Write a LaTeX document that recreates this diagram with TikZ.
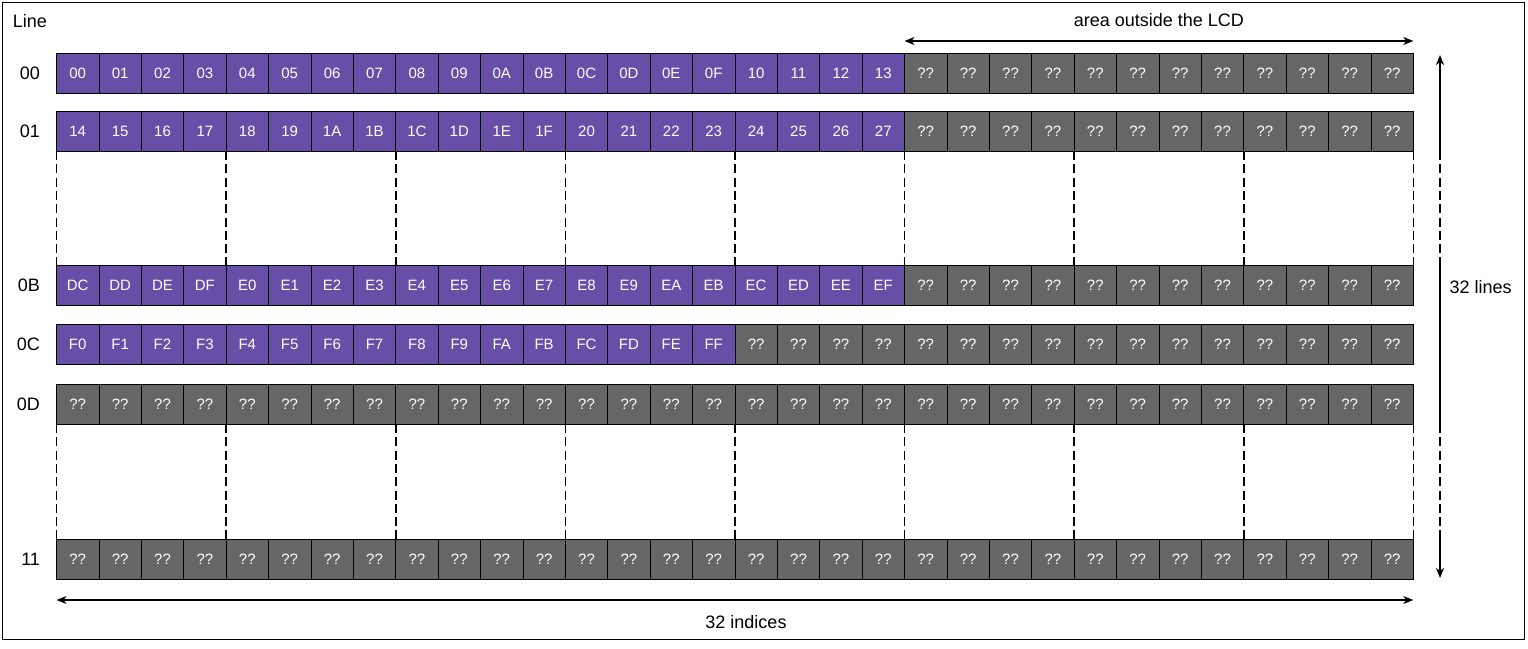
\documentclass[tikz,border=0pt]{standalone}
\usepackage{fontspec}
\setmainfont{Liberation Sans}
\usetikzlibrary{arrows.meta,positioning}
\definecolor{lcdColor}{HTML}{674EA7}
\definecolor{offColor}{HTML}{666666}
\tikzset{
	cell/.style={draw, line width=0.8pt, minimum width=42.4pt, minimum height=40pt,
		inner sep=0, outer sep=0, anchor=north west, text=white,
		font=\fontsize{15}{18}\selectfont},
	lcd/.style={cell, fill=lcdColor},
	off/.style={cell, fill=offColor},
	lab/.style={font=\fontsize{18}{22}\selectfont},
	arr/.style={line width=1.2pt},
	gap/.style={line width=1.6pt, dash pattern=on 9pt off 4.3pt},
}

\begin{document}
\begin{tikzpicture}[x=1pt, y=-1pt, >={Stealth[length=10pt,width=8pt,inset=3pt]}]
	\useasboundingbox (0,0) rectangle (1528,648);
	\draw[line width=1pt] (2.5,2.5) rectangle (1524.5,639.5);
	
	% line 00
	\foreach \t [count=\c from 0] in {00,01,02,03,04,05,06,07,08,09,0A,0B,0C,0D,0E,0F,10,11,12,13}
		\node[lcd] (r00-\c) at ({56.5+42.4*\c},53) {\t};
	\foreach \c in {20,...,31} \node[off] (r00-\c) at ({56.5+42.4*\c},53) {??};
	% line 01
	\foreach \t [count=\c from 0] in {14,15,16,17,18,19,1A,1B,1C,1D,1E,1F,20,21,22,23,24,25,26,27}
		\node[lcd] (r01-\c) at ({56.5+42.4*\c},111) {\t};
	\foreach \c in {20,...,31} \node[off] (r01-\c) at ({56.5+42.4*\c},111) {??};
	% line 0B
	\foreach \t [count=\c from 0] in {DC,DD,DE,DF,E0,E1,E2,E3,E4,E5,E6,E7,E8,E9,EA,EB,EC,ED,EE,EF}
		\node[lcd] (r0B-\c) at ({56.5+42.4*\c},265) {\t};
	\foreach \c in {20,...,31} \node[off] (r0B-\c) at ({56.5+42.4*\c},265) {??};
	% line 0C
	\foreach \t [count=\c from 0] in {F0,F1,F2,F3,F4,F5,F6,F7,F8,F9,FA,FB,FC,FD,FE,FF}
		\node[lcd] (r0C-\c) at ({56.5+42.4*\c},324) {\t};
	\foreach \c in {16,...,31} \node[off] (r0C-\c) at ({56.5+42.4*\c},324) {??};
	% lines 0D and 11
	\foreach \c in {0,...,31} \node[off] (r0D-\c) at ({56.5+42.4*\c},384) {??};
	\foreach \c in {0,...,31} \node[off] (r11-\c) at ({56.5+42.4*\c},539) {??};
	
	\node[lab] (line) at (30,21) {Line};
	\node[lab, left=13pt of r00-0] (l00) {00};
	\node[lab, left=13pt of r01-0] (l01) {01};
	\node[lab, left=13pt of r0B-0] (l0B) {0B};
	\node[lab, left=13pt of r0C-0] (l0C) {0C};
	\node[lab, left=13pt of r0D-0] (l0D) {0D};
	\node[lab, left=13pt of r11-0] (l11) {11};
	
	% skipped lines
	\foreach \c in {0,4,...,28} {
		\draw[gap] (r01-\c.south west) -- (r0B-\c.north west);
		\draw[gap] (r0D-\c.south west) -- (r11-\c.north west);
	}
	\draw[gap] (r01-31.south east) -- (r0B-31.north east);
	\draw[gap] (r0D-31.south east) -- (r11-31.north east);
	
	\draw[<->, arr] ([yshift=12pt]r00-20.north west) -- ([yshift=12pt]r00-31.north east)
		node[midway, above=10pt, lab] (outside) {area outside the LCD};
	\draw[<->, arr] ([yshift=-21pt]r11-0.south west) -- ([yshift=-21pt]r11-31.south east);
	\node[lab] (indices) at (746,622) {32 indices};
	
	\coordinate (vtop) at (1440,55);
	\coordinate (vbot) at (1440,578);
	\draw[<-, arr] (vtop) -- (vtop |- r01-31.south);
	\draw[gap] (vtop |- r01-31.south) -- (vtop |- r0B-31.north);
	\draw[arr] (vtop |- r0B-31.north) -- (vtop |- r0D-31.south);
	\draw[gap] (vtop |- r0D-31.south) -- (vtop |- r11-31.north);
	\draw[->, arr] (vtop |- r11-31.north) -- (vbot);
	\node[lab, anchor=west] (lines) at (1446,287) {32 lines};
\end{tikzpicture}
\end{document}
